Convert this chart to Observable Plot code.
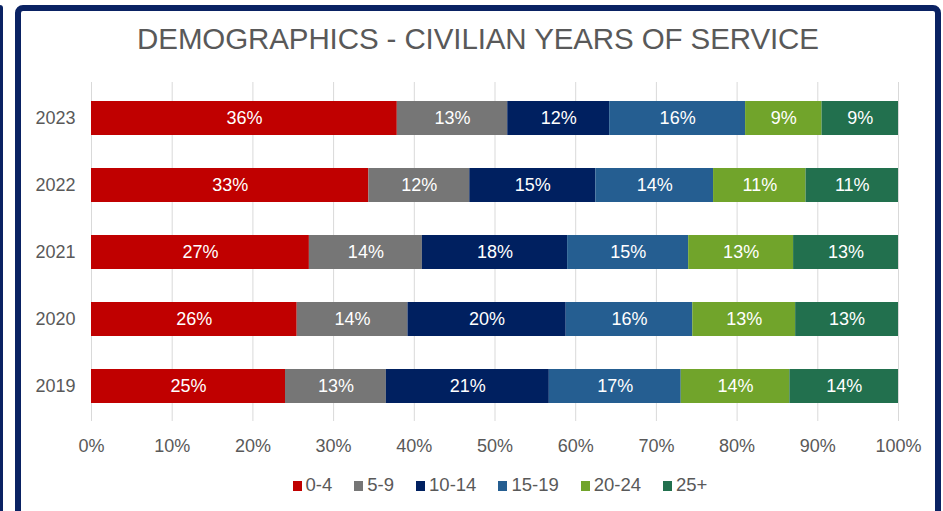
<!DOCTYPE html>
<html>
<head>
<meta charset="utf-8">
<script src="https://cdn.jsdelivr.net/npm/d3@7"></script>
<script src="https://cdn.jsdelivr.net/npm/@observablehq/plot@0.6"></script>
<style>
  html, body { margin: 0; padding: 0; background: #fff; overflow: hidden; }
  body { width: 943px; height: 511px; position: relative; font-family: "Liberation Sans", Arial, sans-serif; }
  #strip { position: absolute; left: 0; top: 5px; width: 3px; height: 600px; background: #0a2263; border-top-right-radius: 3px; }
  #frame { position: absolute; left: 15px; top: 5px; width: 926px; height: 600px; box-sizing: border-box; border: 6px solid #0a2263; border-radius: 8px; }
  #title { position: absolute; left: 15px; width: 926px; top: 24px; text-align: center; font-size: 29.5px; line-height: 1; color: #595959; white-space: nowrap; letter-spacing: -0.1px; }
  #chart { position: absolute; left: 0; top: 0; }
  #legend { position: absolute; left: 0; width: 1000px; top: 476px; text-align: center; font-size: 18.5px; line-height: 1; color: #595959; white-space: nowrap; }
  #legend .item { display: inline-block; margin: 0 11px; }
  #legend .sw { display: inline-block; width: 9px; height: 10px; margin-right: 4px; }
</style>
</head>
<body>
<div id="strip"></div>
<div id="frame"></div>
<div id="title">DEMOGRAPHICS - CIVILIAN YEARS OF SERVICE</div>
<div id="chart"></div>
<div id="legend"></div>
<script>
const years = ["2023", "2022", "2021", "2020", "2019"];
const groups = ["0-4", "5-9", "10-14", "15-19", "20-24", "25+"];
const colors = ["#c00000", "#767676", "#002060", "#255e91", "#71a42b", "#22704e"];
const v0_4   = [36, 33, 27, 26, 25];
const v5_9   = [13, 12, 14, 14, 13];
const v10_14 = [12, 15, 18, 20, 21];
const v15_19 = [16, 14, 15, 16, 17];
const v20_24 = [9, 11, 13, 13, 14];
const v25    = [9, 11, 13, 13, 14];
const xTicks = [0, 0.1, 0.2, 0.3, 0.4, 0.5, 0.6, 0.7, 0.8, 0.9, 1];

const series = [v0_4, v5_9, v10_14, v15_19, v20_24, v25];
const data = [];
years.forEach((y, i) => {
  groups.forEach((g, j) => data.push({year: y, group: g, value: series[j][i]}));
});

const stackOpts = {x: "value", y: "year", z: "group", order: groups, offset: "normalize"};

const plot = Plot.plot({
  width: 943,
  height: 460,
  marginTop: 82,
  marginBottom: 39,
  marginLeft: 91,
  marginRight: 45,
  style: {fontFamily: "'Liberation Sans', Arial, sans-serif", fontSize: "18px", color: "#595959", background: "transparent"},
  x: {domain: [0, 1]},
  y: {domain: years, paddingInner: 0.5, paddingOuter: 0.25},
  color: {domain: groups, range: colors},
  marks: [
    Plot.gridX(xTicks, {stroke: "#d9d9d9", strokeOpacity: 1, strokeWidth: 1}),
    Plot.barX(data, Plot.stackX({...stackOpts, fill: "group"})),
    Plot.text(data, Plot.stackX({...stackOpts, text: d => d.value + "%", fill: "white", fontSize: 18})),
    Plot.axisX({ticks: xTicks, tickFormat: d3.format(".0%"), tickSize: 0, tickPadding: 18, fontSize: 18, label: null}),
    Plot.axisY({tickSize: 0, tickPadding: 16, fontSize: 18, label: null})
  ]
});
document.getElementById("chart").appendChild(plot);

const legend = document.getElementById("legend");
groups.forEach((g, j) => {
  const item = document.createElement("span");
  item.className = "item";
  const sw = document.createElement("span");
  sw.className = "sw";
  sw.style.background = colors[j];
  item.appendChild(sw);
  item.appendChild(document.createTextNode(g));
  legend.appendChild(item);
});
</script>
</body>
</html>
